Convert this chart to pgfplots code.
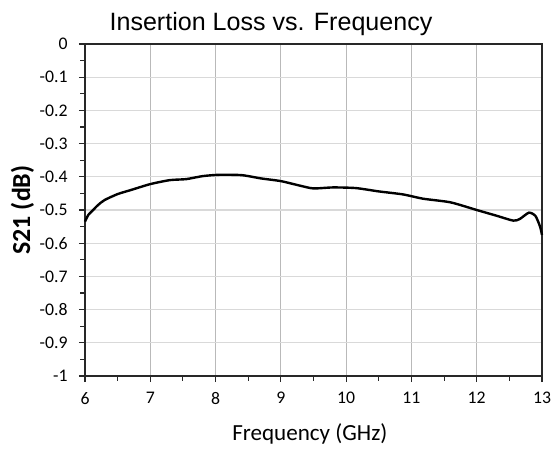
\documentclass[border=0pt]{standalone}
\usepackage{pgfplots}
\pgfplotsset{compat=1.18}
\usepackage{fontspec}
\setmainfont{Carlito}
\newfontfamily\arial{Liberation Sans}
\definecolor{vgrid}{RGB}{185,185,185}
\definecolor{hgrid}{RGB}{217,217,217}
\definecolor{frame}{RGB}{40,40,40}
\begin{document}
\begin{tikzpicture}
\path[use as bounding box] (-63.75pt,-55.5pt) rectangle (350.25pt,282pt);
\begin{axis}[
    at={(0,0)}, anchor=south west,
    scale only axis,
    width=342.75pt, height=249pt,
    xmin=6, xmax=13,
    ymin=-1, ymax=0,
    xtick={6,...,13},
    ytick={-1,-0.9,...,0},
    minor xtick={6.5,7.5,...,12.5},
    minor ytick={-0.95,-0.85,...,-0.05},
    yticklabels={-1,-0.9,-0.8,-0.7,-0.6,-0.5,-0.4,-0.3,-0.2,-0.1,0},
    xtick pos=bottom, ytick pos=left,
    tick align=outside,
    major tick length=4.5pt,
    minor tick length=3.5pt,
    tick style={frame, line width=0.8pt},
    xmajorgrids=true, ymajorgrids=true,
    major x grid style={vgrid, line width=0.8pt},
    major y grid style={hgrid, line width=0.8pt},
    axis line style={frame, line width=0.9pt},
    ticklabel style={font=\fontsize{13.3}{15}\selectfont},
    /pgf/number format/assume math mode=true,
    xticklabel style={yshift=-4pt},
    yticklabel style={xshift=-5pt},
    xlabel={Frequency (GHz)},
    ylabel={\textbf{S21 (dB)}},
    xlabel style={font=\fontsize{17.3}{20}\selectfont, at={([yshift=-43.5pt]axis description cs:0.492,0)}, anchor=center},
    ylabel style={font=\fontsize{19.5}{22}\selectfont, at={([xshift=-47pt]axis description cs:0,0.5)}, anchor=center},
    clip=false,
]
\addplot[black, line width=1.8pt, smooth, tension=0.4] coordinates {
(6.0,-0.535)(6.05,-0.515)(6.1,-0.505)(6.2,-0.485)(6.3,-0.47)(6.5,-0.452)
(6.7,-0.44)(7.0,-0.422)(7.3,-0.41)(7.55,-0.407)(7.8,-0.398)(8.05,-0.394)
(8.4,-0.395)(8.7,-0.405)(9.0,-0.413)(9.3,-0.427)(9.5,-0.435)(9.8,-0.432)
(10.15,-0.434)(10.5,-0.444)(10.87,-0.453)(11.18,-0.466)(11.6,-0.477)
(12.0,-0.5)(12.3,-0.517)(12.56,-0.532)(12.66,-0.527)(12.8,-0.508)
(12.9,-0.518)(12.97,-0.55)(13.0,-0.575)
};
\node[font=\arial\fontsize{18.8}{21}\selectfont, anchor=base] at (axis description cs:0.407,1.042) {Insertion Loss vs. Frequency};
\end{axis}
\end{tikzpicture}
\end{document}
